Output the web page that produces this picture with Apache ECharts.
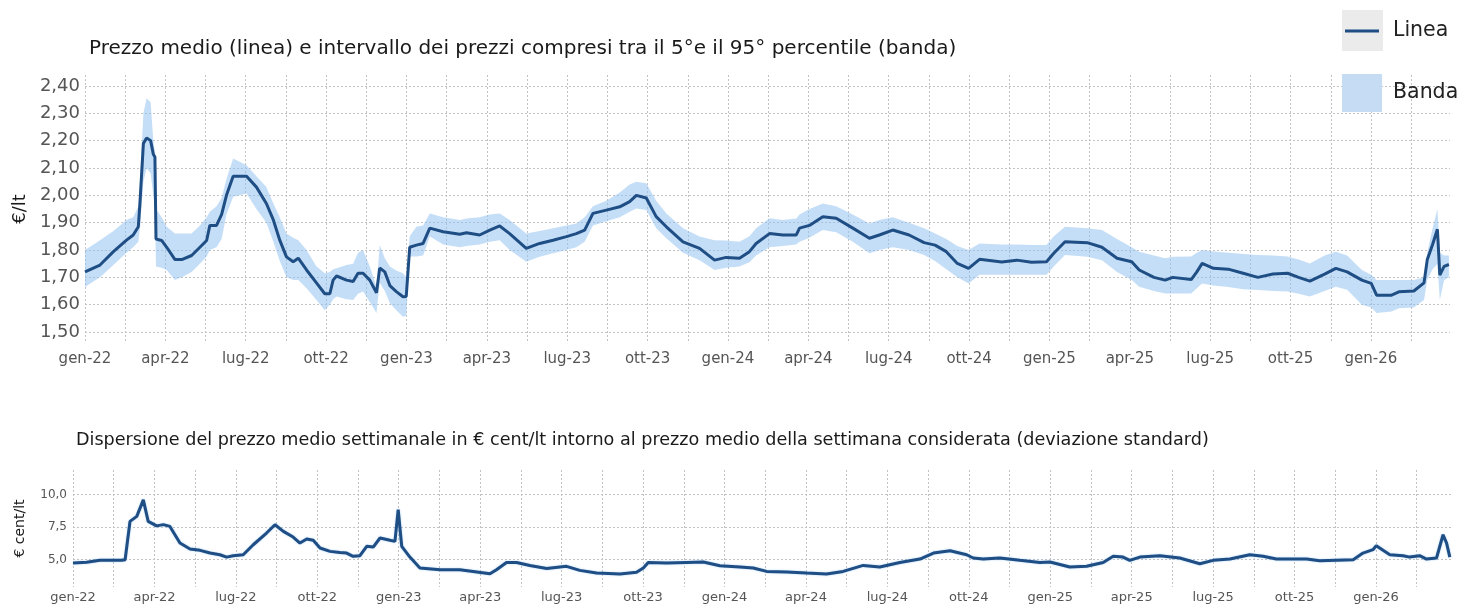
<!DOCTYPE html>
<html><head><meta charset="utf-8">
<script src="https://cdn.jsdelivr.net/npm/echarts@6/dist/echarts.min.js"></script>
<style>html,body{margin:0;padding:0;background:#fff}#c{width:1462px;height:604px}</style>
</head><body><div id="c"></div>
<script>
// x positions: months elapsed since 1 Jan 2022
const topMonths = [0.00,0.56,1.06,1.55,1.80,1.99,2.05,2.18,2.30,2.45,2.55,2.61,2.65,2.86,3.05,3.36,3.61,3.98,4.29,4.54,4.66,4.91,5.10,5.28,5.53,6.03,6.40,6.77,7.03,7.27,7.52,7.77,7.96,8.27,8.64,8.95,9.14,9.26,9.39,9.76,10.01,10.19,10.38,10.63,10.88,11.00,11.19,11.38,11.62,11.87,11.99,12.12,12.37,12.62,12.87,13.37,13.99,14.24,14.73,15.11,15.48,15.85,16.47,16.97,17.47,17.97,18.34,18.65,18.96,19.46,19.96,20.33,20.58,20.95,21.32,21.70,22.32,22.94,23.50,23.93,24.43,24.80,25.05,25.55,26.05,26.55,26.67,27.04,27.54,28.04,28.66,29.28,29.65,30.15,30.76,31.32,31.73,32.15,32.56,32.98,33.39,34.22,34.78,35.33,35.89,36.16,36.58,37.41,37.96,38.52,39.07,39.35,39.90,40.32,40.60,41.29,41.50,41.70,42.12,42.67,43.23,43.78,44.34,44.89,45.30,45.72,46.27,46.69,47.11,47.66,48.01,48.21,48.77,49.04,49.60,49.98,50.10,50.30,50.48,50.57,50.73,50.91];
const topMean = [1.72,1.745,1.794,1.836,1.855,1.885,1.97,2.19,2.21,2.20,2.15,2.14,1.84,1.835,1.81,1.765,1.765,1.78,1.81,1.835,1.89,1.89,1.93,2.00,2.07,2.07,2.03,1.97,1.91,1.836,1.775,1.757,1.77,1.727,1.68,1.64,1.64,1.69,1.705,1.69,1.685,1.715,1.715,1.69,1.644,1.734,1.72,1.67,1.648,1.629,1.63,1.81,1.818,1.824,1.88,1.867,1.858,1.863,1.855,1.873,1.888,1.86,1.806,1.824,1.836,1.849,1.86,1.873,1.934,1.946,1.958,1.977,2.00,1.99,1.922,1.885,1.83,1.806,1.763,1.773,1.77,1.794,1.824,1.86,1.855,1.855,1.88,1.89,1.922,1.916,1.88,1.843,1.855,1.873,1.855,1.827,1.818,1.794,1.751,1.733,1.766,1.756,1.763,1.755,1.757,1.788,1.83,1.827,1.81,1.77,1.757,1.727,1.70,1.69,1.70,1.692,1.72,1.751,1.733,1.73,1.715,1.70,1.712,1.715,1.70,1.686,1.712,1.733,1.72,1.69,1.678,1.635,1.635,1.647,1.65,1.68,1.764,1.82,1.876,1.708,1.74,1.747];
const topLow = [1.665,1.70,1.745,1.79,1.81,1.83,1.88,2.05,2.10,2.08,2.00,1.95,1.74,1.735,1.727,1.69,1.70,1.72,1.75,1.776,1.80,1.81,1.84,1.93,1.995,2.007,1.95,1.90,1.83,1.76,1.70,1.69,1.69,1.66,1.617,1.58,1.60,1.62,1.63,1.62,1.617,1.64,1.648,1.61,1.57,1.68,1.65,1.605,1.58,1.556,1.56,1.776,1.776,1.78,1.849,1.82,1.81,1.815,1.82,1.83,1.836,1.80,1.757,1.775,1.788,1.80,1.81,1.83,1.89,1.905,1.92,1.94,1.952,1.946,1.88,1.843,1.79,1.763,1.727,1.735,1.74,1.755,1.78,1.81,1.815,1.82,1.83,1.845,1.873,1.865,1.83,1.788,1.80,1.81,1.80,1.782,1.76,1.73,1.70,1.678,1.71,1.71,1.71,1.71,1.71,1.74,1.782,1.775,1.763,1.72,1.69,1.666,1.65,1.641,1.641,1.641,1.66,1.678,1.67,1.665,1.657,1.654,1.65,1.648,1.64,1.63,1.65,1.666,1.655,1.60,1.59,1.57,1.575,1.587,1.59,1.617,1.69,1.73,1.75,1.617,1.69,1.70];
const topHigh = [1.80,1.836,1.87,1.91,1.92,1.96,2.05,2.30,2.355,2.34,2.20,2.16,1.95,1.92,1.885,1.86,1.86,1.86,1.89,1.92,1.94,1.96,1.99,2.06,2.135,2.11,2.07,2.03,1.97,1.92,1.86,1.845,1.836,1.80,1.74,1.715,1.72,1.73,1.733,1.745,1.75,1.79,1.80,1.74,1.666,1.818,1.77,1.74,1.725,1.715,1.70,1.85,1.885,1.89,1.934,1.92,1.91,1.915,1.92,1.93,1.934,1.91,1.86,1.87,1.88,1.89,1.897,1.92,1.96,1.98,2.01,2.04,2.05,2.044,1.98,1.934,1.88,1.849,1.836,1.835,1.83,1.85,1.88,1.916,1.91,1.915,1.93,1.95,1.97,1.96,1.93,1.897,1.91,1.92,1.90,1.88,1.86,1.84,1.815,1.80,1.824,1.82,1.82,1.818,1.818,1.85,1.885,1.88,1.873,1.84,1.81,1.794,1.78,1.77,1.775,1.776,1.79,1.80,1.795,1.79,1.785,1.782,1.78,1.776,1.765,1.751,1.78,1.794,1.78,1.727,1.71,1.69,1.69,1.69,1.69,1.70,1.79,1.88,1.95,1.79,1.78,1.78];

const bottomMonths = [0.00,0.50,0.99,1.49,1.79,1.92,2.10,2.35,2.59,2.77,3.08,3.33,3.57,3.94,4.31,4.68,5.05,5.41,5.66,5.90,6.27,6.64,7.13,7.44,7.75,8.11,8.36,8.61,8.85,9.10,9.47,9.83,10.08,10.32,10.57,10.82,11.06,11.31,11.68,11.86,11.98,12.11,12.41,12.78,13.52,14.25,14.74,15.36,15.60,15.97,16.34,16.83,17.45,18.18,18.67,19.29,20.15,20.76,21.01,21.19,21.86,22.60,23.22,23.83,24.57,25.06,25.55,26.29,27.02,27.76,28.37,29.11,29.72,30.46,31.20,31.70,32.31,32.92,33.16,33.53,34.14,34.88,35.62,35.99,36.72,37.34,37.95,38.32,38.68,38.93,39.30,40.04,40.77,41.51,42.00,42.62,43.35,43.84,44.33,45.44,45.93,47.16,47.52,47.89,48.01,48.26,48.51,49.00,49.24,49.61,49.86,50.23,50.47,50.60,50.72];
const bottomSd = [4.75,4.8,4.95,4.95,4.95,5.0,7.95,8.33,9.6,7.95,7.6,7.7,7.56,6.28,5.82,5.72,5.51,5.38,5.2,5.3,5.38,6.15,7.05,7.69,7.18,6.74,6.28,6.59,6.49,5.9,5.64,5.56,5.51,5.26,5.31,6.03,5.97,6.67,6.49,6.41,8.85,6.03,5.2,4.36,4.23,4.23,4.1,3.92,4.23,4.79,4.79,4.56,4.33,4.49,4.18,3.97,3.9,4.03,4.36,4.79,4.74,4.79,4.82,4.54,4.44,4.36,4.1,4.05,3.97,3.9,4.1,4.56,4.44,4.79,5.05,5.51,5.69,5.38,5.13,5.05,5.13,4.95,4.79,4.82,4.44,4.49,4.79,5.26,5.2,4.95,5.2,5.31,5.13,4.69,4.95,5.05,5.38,5.26,5.05,5.05,4.92,5.0,5.51,5.77,6.08,5.72,5.38,5.31,5.2,5.31,5.05,5.13,6.92,6.28,5.2];

const quarterLabels = ['gen-22','apr-22','lug-22','ott-22','gen-23','apr-23','lug-23','ott-23','gen-24','apr-24','lug-24','ott-24','gen-25','apr-25','lug-25','ott-25','gen-26'];
const yTicksTop = [1.5,1.6,1.7,1.8,1.9,2.0,2.1,2.2,2.3,2.4];
const yTicksBottom = [5.0,7.5,10.0];

const FONT = 'DejaVu Sans';
const quarterPos = quarterLabels.map((_, i) => i * 3);
const gridPos = [];
for (let i = 0; i <= 33; i++) gridPos.push(i * 1.5);

const lineColor = '#1f4e85';
const bandColor = 'rgba(150,195,240,0.55)';
const gridLine = {show: true, lineStyle: {color: '#c2c2c2', width: 1, type: [2, 2]}};

function xAxisCfg(gi, max, fs, margin) {
  return {
    gridIndex: gi, type: 'value', min: 0, max: max,
    axisLine: {show: false},
    axisTick: {show: false, customValues: gridPos},
    axisLabel: {customValues: quarterPos, formatter: v => quarterLabels[Math.round(v / 3)] || '',
      fontSize: fs, color: '#555', margin: margin, fontFamily: FONT},
    splitLine: gridLine
  };
}

const chart = echarts.init(document.getElementById('c'), null, {renderer: 'canvas'});
chart.setOption({
  animation: false,
  backgroundColor: '#fff',
  textStyle: {fontFamily: FONT},
  title: [
    {text: 'Prezzo medio (linea) e intervallo dei prezzi compresi tra il 5°e il 95° percentile (banda)',
     left: 84, top: 34, textStyle: {fontSize: 20, fontWeight: 'normal', color: '#1a1a1a', fontFamily: FONT}},
    {text: 'Dispersione del prezzo medio settimanale in € cent/lt intorno al prezzo medio della settimana considerata (deviazione standard)',
     left: 71, top: 426, textStyle: {fontSize: 17.6, fontWeight: 'normal', color: '#1a1a1a', fontFamily: FONT}}
  ],
  legend: {
    left: 1342, top: 12, orient: 'vertical', padding: 0, itemWidth: 40, itemHeight: 38, itemGap: 24, z: 10,
    textStyle: {fontSize: 20.5, color: '#222', fontFamily: FONT, padding: [0, 0, 0, 6]},
    data: [
      {name: 'Linea', icon: 'path://M0,0 M40,38 M3,17.5 L37,17.5 L37,20.5 L3,20.5 Z', itemStyle: {color: lineColor, borderWidth: 0}},
      {name: 'Banda', icon: 'rect', itemStyle: {color: '#c5dcf4', borderWidth: 0, opacity: 1}}
    ]
  },
  graphic: [{type: 'rect', left: 1342, top: 10, z: 0, shape: {width: 41, height: 41}, style: {fill: '#ebebeb'}}],
  grid: [
    {left: 85, right: 12, top: 75, height: 268},
    {left: 73, right: 10, top: 470, height: 117}
  ],
  xAxis: [xAxisCfg(0, 50.95, 15, 9), xAxisCfg(1, 50.8, 13, 4)],
  yAxis: [
    {gridIndex: 0, type: 'value', min: 1.46, max: 2.44,
     axisLine: {show: false}, axisTick: {show: false, customValues: yTicksTop},
     axisLabel: {customValues: yTicksTop, formatter: v => v.toFixed(2).replace('.', ','), fontSize: 18, color: '#555', margin: 5, fontFamily: FONT},
     splitLine: gridLine,
     name: '€/lt', nameLocation: 'middle', nameRotate: 90, nameGap: 53,
     nameTextStyle: {fontSize: 18, color: '#1a1a1a', fontFamily: FONT}},
    {gridIndex: 1, type: 'value', min: 2.9, max: 11.9,
     axisLine: {show: false}, axisTick: {show: false, customValues: yTicksBottom},
     axisLabel: {customValues: yTicksBottom, formatter: v => v.toFixed(1).replace('.', ','), fontSize: 12, color: '#555', margin: 6, fontFamily: FONT},
     splitLine: gridLine,
     name: '€ cent/lt', nameLocation: 'middle', nameRotate: 90, nameGap: 46,
     nameTextStyle: {fontSize: 14, color: '#1a1a1a', fontFamily: FONT}}
  ],
  series: [
    {name: 'Banda', type: 'custom', xAxisIndex: 0, yAxisIndex: 0, silent: true, clip: true, z: 1,
     itemStyle: {color: '#c5dcf4'},
     encode: {x: 0, y: [1, 2]},
     data: topMonths.map((m, i) => [m, topLow[i], topHigh[i]]),
     renderItem: function (params, api) {
       if (params.dataIndex !== 0) return null;
       const upper = [], lower = [];
       for (let i = 0; i < topMonths.length; i++) {
         upper.push(api.coord([topMonths[i], topHigh[i]]));
         lower.push(api.coord([topMonths[i], topLow[i]]));
       }
       return {type: 'polygon', shape: {points: upper.concat(lower.reverse())}, style: {fill: bandColor}};
     }},
    {name: 'Linea', type: 'line', xAxisIndex: 0, yAxisIndex: 0, symbol: 'none', z: 5,
     color: lineColor, lineStyle: {width: 3, color: lineColor},
     data: topMonths.map((m, i) => [m, topMean[i]])},
    {name: 'Deviazione', type: 'line', xAxisIndex: 1, yAxisIndex: 1, symbol: 'none', z: 5,
     color: lineColor, lineStyle: {width: 3, color: lineColor, shadowColor: 'rgba(120,180,240,0.6)', shadowBlur: 2},
     data: bottomMonths.map((m, i) => [m, bottomSd[i]])}
  ]
});
</script></body></html>
